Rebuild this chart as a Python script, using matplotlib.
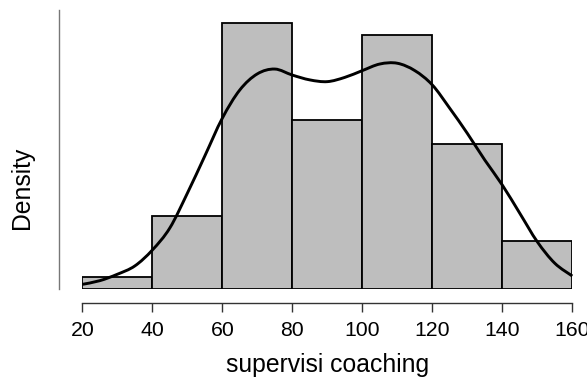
import numpy as np
import matplotlib
matplotlib.use("Agg")
import matplotlib.pyplot as plt
from matplotlib.path import Path
from matplotlib.patches import PathPatch

plt.rcParams['font.family'] = ['Liberation Sans', 'DejaVu Sans']

# histogram bins and counts
bin_edges = [20, 40, 60, 80, 100, 120, 140, 160]
bin_counts = [1, 6, 22, 14, 21, 12, 4]

# density curve
curve_x = [20, 25, 30, 35, 40, 45, 50, 55, 60, 65, 70, 75, 80, 85, 90,
           95, 100, 105, 110, 115, 120, 125, 130, 135, 140, 145, 150, 155, 160]
curve_y = [0.00024, 0.00043, 0.00076, 0.00119, 0.00201, 0.00315, 0.00494,
           0.00687, 0.00882, 0.01028, 0.01111, 0.01136, 0.01105, 0.01080,
           0.01071, 0.01093, 0.01128, 0.01162, 0.01166, 0.01128, 0.01054,
           0.00933, 0.00804, 0.00666, 0.00537, 0.00391, 0.00244, 0.00133,
           0.00067]

x_ticks = [20, 40, 60, 80, 100, 120, 140, 160]


def smooth_path(xs, ys):
    # cubic bezier segments through the read points (Catmull-Rom tangents)
    p = np.column_stack([xs, ys]).astype(float)
    p = np.vstack([p[0], p, p[-1]])
    verts = [p[1]]
    codes = [Path.MOVETO]
    for i in range(1, len(p) - 2):
        c1 = p[i] + (p[i + 1] - p[i - 1]) / 6
        c2 = p[i + 1] - (p[i + 2] - p[i]) / 6
        verts += [c1, c2, p[i + 1]]
        codes += [Path.CURVE4] * 3
    return Path(verts, codes)


fig = plt.figure(figsize=(5.87, 3.83), dpi=100)
ax = fig.add_axes([82.3 / 587, 94 / 383, 490 / 587, 279 / 383])

centers = [(a + b) / 2 for a, b in zip(bin_edges[:-1], bin_edges[1:])]
ax.hist(centers, bins=bin_edges, weights=bin_counts, density=True,
        facecolor='#bebebe', edgecolor='black', linewidth=1.3)
ax.add_patch(PathPatch(smooth_path(curve_x, curve_y), facecolor='none',
                       edgecolor='black', linewidth=2.1, clip_on=False,
                       capstyle='butt'))

ax.set_xlim(20, 160)
ax.set_ylim(0, 0.01441)

for s in ['top', 'right']:
    ax.spines[s].set_visible(False)
ax.spines['left'].set_position(('outward', 17))
ax.spines['left'].set_color('#777777')
ax.spines['left'].set_linewidth(1.0)
ax.spines['bottom'].set_position(('outward', 10.3))
ax.spines['bottom'].set_color('#333333')
ax.spines['bottom'].set_linewidth(1.0)

ax.set_xticks(x_ticks)
ax.tick_params(axis='x', length=6.5, width=1.0, color='#333333',
               labelsize=15.3, pad=6.5)
ax.tick_params(axis='y', left=False, labelleft=False)

ax.set_xlabel('supervisi coaching', fontsize=17.8, labelpad=9)
fig.text(22 / 587, 1 - 187.5 / 383, 'Density', rotation=90,
         fontsize=17.8, ha='center', va='center')

fig.savefig('out.png', dpi=100)
